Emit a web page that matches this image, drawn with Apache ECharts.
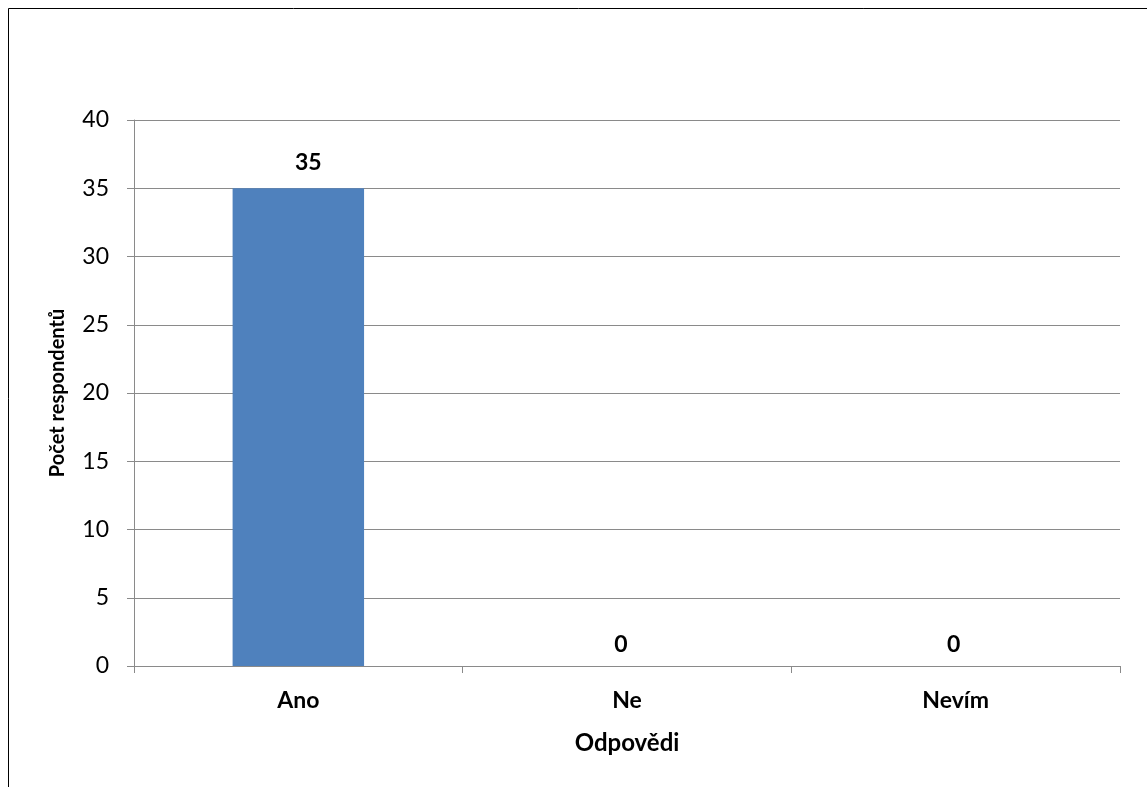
<!DOCTYPE html>
<html>
<head>
<meta charset="utf-8">
<script src="https://cdn.jsdelivr.net/npm/echarts@6/dist/echarts.min.js"></script>
<style>
  html, body { margin: 0; padding: 0; background: #fff; }
  #chart { width: 1147px; height: 787px; }
</style>
</head>
<body>
<div id="chart"></div>
<script>
// Answers and respondent counts
const categories = ['Ano', 'Ne', 'Nevím'];
const counts = [35, 0, 0];
const yTicks = { min: 0, max: 40, step: 5 };
const xTitle = 'Odpovědi';
const yTitle = 'Počet respondentů';

const FONT = 'Lato, "Open Sans", "Noto Sans", sans-serif';
const GRID_COLOR = '#8a8a8a';

// value labels sit slightly off-centre, as in the original spreadsheet export
const labelNudge = [[10, 0], [-6, 4], [-2, 4]];

const chart = echarts.init(document.getElementById('chart'), null, { renderer: 'canvas' });

chart.setOption({
  backgroundColor: '#ffffff',
  animation: false,
  graphic: [{
    type: 'rect',
    shape: { x: 8.5, y: 8.5, width: 1160, height: 800 },
    style: { fill: 'none', stroke: '#000000', lineWidth: 1 },
    silent: true
  }],
  grid: { left: 134, right: 27, top: 120, bottom: 121, containLabel: false },
  xAxis: {
    type: 'category',
    data: categories,
    name: xTitle,
    nameLocation: 'middle',
    nameGap: 65,
    nameTextStyle: { fontFamily: FONT, fontSize: 24, fontWeight: 'bold', color: '#000' },
    axisLine: { show: true, lineStyle: { color: GRID_COLOR, width: 1 } },
    axisTick: { show: true, alignWithLabel: false, length: 7, lineStyle: { color: GRID_COLOR } },
    axisLabel: { margin: 23, fontFamily: FONT, fontSize: 23, fontWeight: 'bold', color: '#000' },
    splitLine: { show: false }
  },
  yAxis: {
    type: 'value',
    min: yTicks.min,
    max: yTicks.max,
    interval: yTicks.step,
    name: yTitle,
    nameLocation: 'middle',
    nameGap: 66,
    nameRotate: 90,
    nameTextStyle: { fontFamily: FONT, fontSize: 20, fontWeight: 'bold', color: '#000' },
    axisLine: { show: true, lineStyle: { color: GRID_COLOR, width: 1 } },
    axisTick: { show: true, inside: false, length: 7, lineStyle: { color: GRID_COLOR } },
    axisLabel: { margin: 25, fontFamily: FONT, fontSize: 23, color: '#000' },
    splitLine: { show: true, lineStyle: { color: GRID_COLOR, width: 1 } }
  },
  series: [{
    type: 'bar',
    data: counts.map((v, i) => ({ value: v, label: { offset: labelNudge[i] } })),
    barCategoryGap: '60%',
    itemStyle: { color: '#4f81bd' },
    label: {
      show: true,
      position: 'top',
      distance: 14,
      fontFamily: FONT,
      fontSize: 23,
      fontWeight: 'bold',
      color: '#000'
    }
  }]
});
</script>
</body>
</html>
